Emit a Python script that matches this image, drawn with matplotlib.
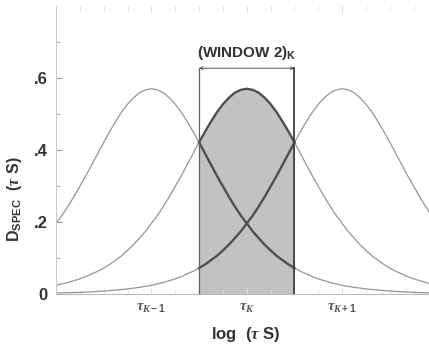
import numpy as np
import matplotlib
matplotlib.use("Agg")
import matplotlib.pyplot as plt

# profile of one D_spec curve vs offset from its centre (in tick spacings)
offset = [0.0, 0.0625, 0.125, 0.1875, 0.25, 0.3125, 0.375, 0.4375, 0.5, 0.5625, 0.625, 0.6875,
          0.75, 0.8125, 0.875, 0.9375, 1.0, 1.0625, 1.125, 1.1875, 1.25, 1.3125, 1.375, 1.4375,
          1.5, 1.5625, 1.625, 1.6875, 1.75, 1.8125, 1.875, 2.0, 2.125, 2.25, 2.5, 2.75, 3.0]
d_profile = [0.570, 0.567, 0.559, 0.545, 0.527, 0.505, 0.479, 0.451, 0.421, 0.390, 0.359, 0.328,
             0.299, 0.270, 0.243, 0.218, 0.196, 0.174, 0.155, 0.137, 0.121, 0.106, 0.094, 0.082,
             0.072, 0.063, 0.056, 0.048, 0.042, 0.037, 0.032, 0.024, 0.0185, 0.014, 0.008, 0.0045, 0.0026]
centers = [-1, 0, 1]
tick_labels = [r"$\tau_{K-1}$", r"$\tau_{K}$", r"$\tau_{K+1}$"]
window = (-0.5, 0.5)
window_top = 0.627
yticks = [0, 0.2, 0.4, 0.6]
ytick_labels = ["0", ".2", ".4", ".6"]

plt.rcParams['font.family'] = ['Liberation Sans', 'DejaVu Sans']
plt.rcParams['font.weight'] = 'bold'
plt.rcParams['mathtext.fontset'] = 'custom'
plt.rcParams['mathtext.rm'] = 'Liberation Sans:bold'
plt.rcParams['mathtext.sf'] = 'Liberation Sans:bold'
plt.rcParams['mathtext.it'] = 'Liberation Serif:italic'

u = np.array(offset)
p = np.array(d_profile)
u_full = np.concatenate([-u[::-1], u[1:]])
p_full = np.concatenate([p[::-1], p[1:]])

fig = plt.figure(figsize=(4.29, 3.49), dpi=100)
ax = fig.add_axes([0.1305, 0.1576, 0.8695, 0.8254])

thin = '#959595'
dark = '#505050'
text_c = '#333333'

# shaded window under the middle curve
inw = (u_full >= window[0]) & (u_full <= window[1])
ax.fill_between(u_full[inw], 0, p_full[inw], color='#c2c2c2', lw=0, zorder=1)

for c in centers:
    x = u_full + c
    ax.plot(x, p_full, color=thin, lw=0.9, zorder=2)
    m = (x >= window[0] - 1e-9) & (x <= window[1] + 1e-9)
    ax.plot(x[m], p_full[m], color=dark, lw=1.7, zorder=3)

# window edges and arrow
ax.plot([window[0], window[0]], [0, window_top], color='#606060', lw=0.9, zorder=4)
ax.plot([window[1], window[1]], [0, window_top], color='#404040', lw=1.3, zorder=4)
ax.annotate('', xy=(window[0], window_top), xytext=(window[1], window_top),
            arrowprops=dict(arrowstyle='<->', color='#555555', lw=0.7,
                            shrinkA=0, shrinkB=0, mutation_scale=5))
ax.text(0, 0.643, r"(WINDOW 2)$_{\mathsf{K}}$", ha='center', va='bottom',
        fontsize=11, fontweight='bold', color=text_c)

ax.set_xlim(-2, 1.91)
ax.set_ylim(0, 0.8)

ax.set_xticks(centers)
ax.set_xticklabels(tick_labels)
ax.set_xticks(np.arange(-2, 2, 0.25), minor=True)
ax.set_yticks(yticks)
ax.set_yticklabels(ytick_labels)
ax.set_yticks([0.1, 0.3, 0.5, 0.7], minor=True)

for s in ['top', 'right']:
    ax.spines[s].set_visible(False)
ax.spines['left'].set_color('#cccccc')
ax.spines['bottom'].set_color('#bbbbbb')
ax.tick_params(axis='both', which='both', direction='in', color='#a0a0a0', labelcolor=text_c)
ax.tick_params(axis='x', which='major', length=4, labelsize=10.5, pad=5, labelcolor='#555555')
ax.tick_params(axis='x', which='minor', length=3)
ax.tick_params(axis='x', which='both', top=True, color='#dddddd')
ax.tick_params(axis='y', which='major', length=4, labelsize=12, pad=6)
ax.tick_params(axis='y', which='minor', length=3)

ax.set_xlabel(r"log  ($\tau$ S)", fontsize=12, fontweight='bold', color=text_c, va='center')
ax.xaxis.set_label_coords(0.51, -0.142)
ax.set_ylabel(r"D$_{\mathsf{SPEC}}$  ($\tau$ S)", fontsize=11.5, fontweight='bold', color=text_c, va='center')
ax.yaxis.set_label_coords(-0.11, 0.33)

fig.savefig('out.png', dpi=100)
